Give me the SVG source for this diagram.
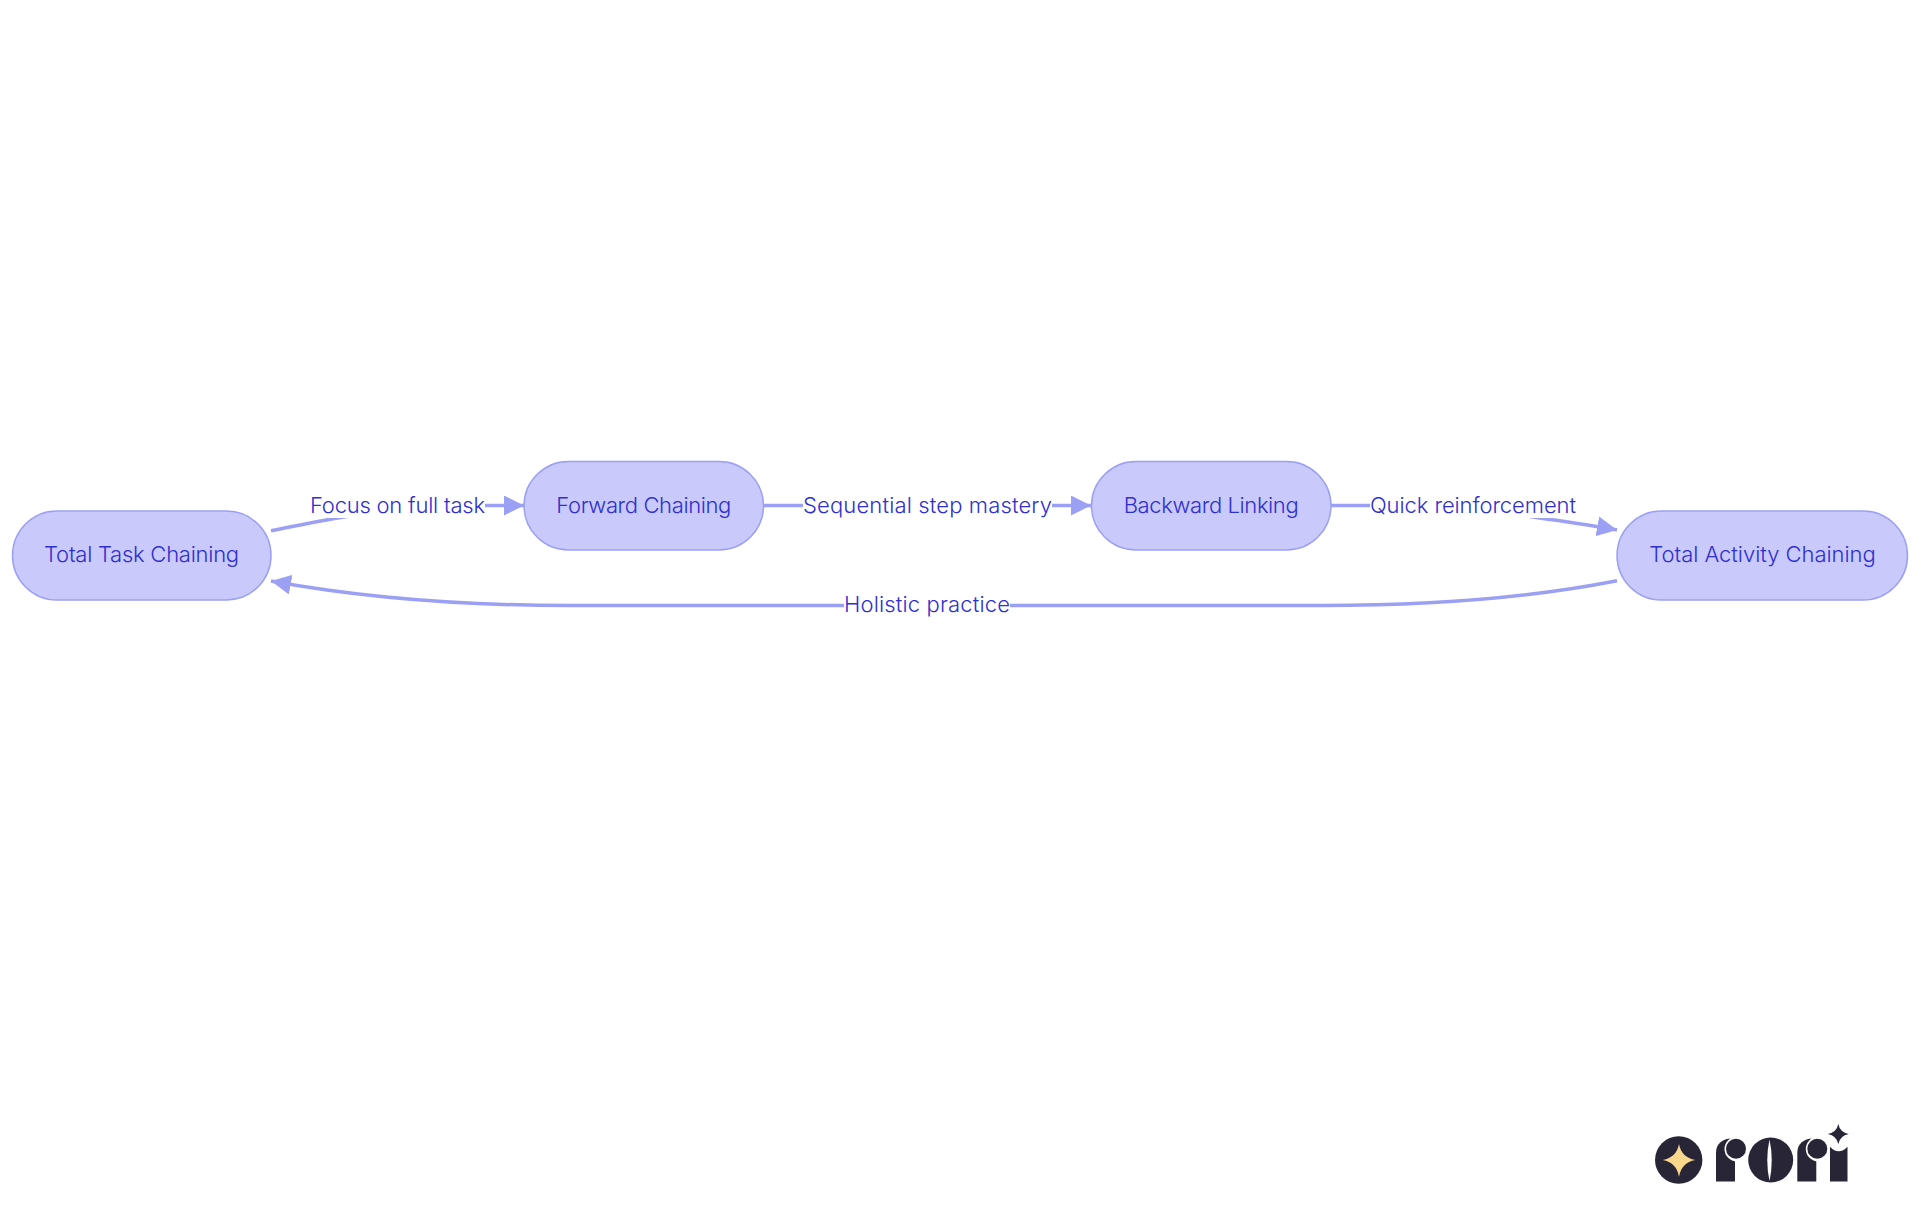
<svg xmlns="http://www.w3.org/2000/svg" width="1920" height="1215" viewBox="0 0 1920 1215">
<defs>
<style>
.node{fill:#c9c9fc;stroke:#9ca0f5;stroke-width:1.5}
.lbl{font-family:"Inter","Liberation Sans",sans-serif;font-size:22px;font-weight:350;fill:#2f2fd0;text-anchor:middle}
.edge{fill:none;stroke:#9ca0f5;stroke-width:3.5}
.mask{fill:#fff}
.dark{fill:#282636}
.gap{fill:#fff}
</style>
<marker id="arrow" markerUnits="userSpaceOnUse" markerWidth="20" markerHeight="20" refX="20" refY="10" orient="auto"><path d="M0,0L20,10L0,20z" fill="#9ca0f5"/></marker>
</defs>
<rect width="1920" height="1215" fill="#fff"/>
<g id="connectors">
<path class="edge" marker-end="url(#arrow)" d="M271,530.700C300,525 325,519.500 347,516.400C370,513 400,505.500 440,505.500H524"/>
<path class="edge" marker-end="url(#arrow)" d="M764,505.500H1091"/>
<path class="edge" marker-end="url(#arrow)" d="M1331,505.500H1440C1480,505.500 1510,513 1530,516.400C1560,521 1590,525 1617,530"/>
<path class="edge" marker-end="url(#arrow)" d="M1617,580.700C1534,597 1440,605.500 1322,605.500H570C452,605.500 358,597 271,581"/>
<rect class="mask" x="310" y="484" width="175" height="34"/>
<rect class="mask" x="803" y="484" width="249" height="34"/>
<rect class="mask" x="1370" y="484" width="206" height="34"/>
<rect class="mask" x="844" y="588" width="166" height="34"/>
<text class="lbl" x="397.500" y="512.500" textLength="175">Focus on full task</text>
<text class="lbl" x="927.500" y="512.500" textLength="249">Sequential step mastery</text>
<text class="lbl" x="1473" y="512.500" textLength="206">Quick reinforcement</text>
<text class="lbl" x="927" y="612" textLength="166">Holistic practice</text>
</g>
<g id="n1"><rect class="node" x="12.500" y="511" width="258.500" height="89" rx="44.500"/><text class="lbl" x="141.600" y="562" textLength="195">Total Task Chaining</text></g>
<g id="n2"><rect class="node" x="524" y="461.500" width="239.500" height="88.500" rx="44.500"/><text class="lbl" x="643.800" y="512.500" textLength="175">Forward Chaining</text></g>
<g id="n3"><rect class="node" x="1091.500" y="461.500" width="239.500" height="88.500" rx="44.500"/><text class="lbl" x="1211.200" y="512.500" textLength="175">Backward Linking</text></g>
<g id="n4"><rect class="node" x="1617" y="511" width="290.500" height="89" rx="44.500"/><text class="lbl" x="1762.500" y="562" textLength="226.500">Total Activity Chaining</text></g>
<g id="logo">
<circle class="dark" cx="1678.700" cy="1160" r="23.700"/>
<path fill="#fbd78e" d="M1679,1144Q1681.500,1157.500 1695.300,1160Q1681.500,1162.500 1679,1176.700Q1676.500,1162.500 1662.700,1160Q1676.500,1157.500 1679,1144Z"/>
<path class="dark" d="M1716,1181.500V1153C1716,1143 1723,1139 1731,1138.500L1735,1160V1181.500Z"/>
<circle class="gap" cx="1737" cy="1149" r="12.500"/>
<circle class="dark" cx="1736" cy="1148.700" r="10"/>
<circle class="dark" cx="1770.700" cy="1160" r="22.500"/>
<path class="gap" d="M1769.500,1139.500Q1765,1160 1769.500,1181Q1774,1160 1769.500,1139.500Z"/>
<path class="dark" d="M1797.300,1181.500V1153C1797.300,1143 1804.300,1139 1812.300,1138.500L1816.300,1160V1181.500Z"/>
<circle class="gap" cx="1818.300" cy="1149" r="12.500"/>
<circle class="dark" cx="1817.300" cy="1148.700" r="10"/>
<path class="dark" d="M1830,1146.700Q1838.700,1156 1847.500,1146.700V1181.500H1830Z"/>
<path class="dark" d="M1838.300,1124Q1840,1132.300 1848.800,1134Q1840,1135.700 1838.300,1144Q1836.600,1135.700 1827.800,1134Q1836.600,1132.300 1838.300,1124Z"/>
</g>
</svg>
